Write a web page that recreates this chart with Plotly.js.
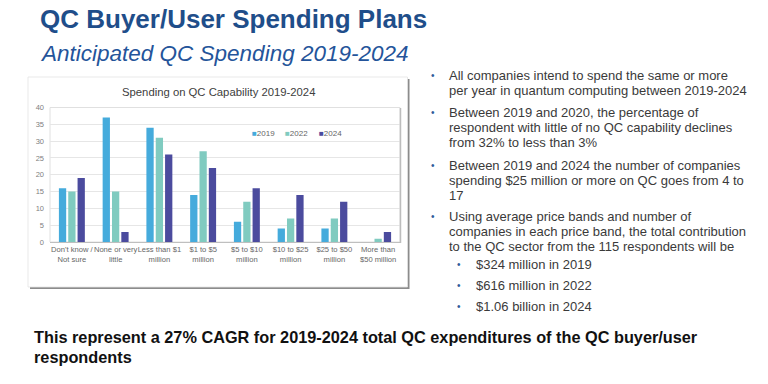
<!DOCTYPE html>
<html><head><meta charset="utf-8">
<script src="https://cdn.plot.ly/plotly-3.0.1.min.js"></script>
<style>html,body{margin:0;padding:0;background:#fff;}#chart{width:768px;height:384px;}</style>
</head><body><div id="chart"></div>
<script>
// ---- data ----
const categories = ["Don't know /<br>Not sure","None or very<br>little","Less than $1<br>million","$1 to $5<br>million","$5 to $10<br>million","$10 to $25<br>million","$25 to $50<br>million","More than<br>$50 million"];
const years = ["2019","2022","2024"];
const v2019 = [16,37,34,14,6,4,4,0];
const v2022 = [15,15,31,27,12,7,7,1];
const v2024 = [19,3,26,22,16,14,12,3];
const colors = ["#45ABDC","#80CBC0","#4B4B9E"];
const yTicks = [0,5,10,15,20,25,30,35,40];

const title = "QC Buyer/User Spending Plans";
const subtitle = "Anticipated QC Spending 2019-2024";
const chartTitle = "Spending on QC Capability 2019-2024";
const bullets = [
  ["All companies intend to spend the same or more","per year in quantum computing between 2019-2024"],
  ["Between 2019 and 2020, the percentage of","respondent with little of no QC capability declines","from 32% to less than 3%"],
  ["Between 2019 and 2024 the number of companies","spending $25 million or more on QC goes from 4 to","17"],
  ["Using average price bands and number of","companies in each price band, the total contribution","to the QC sector from the 115 respondents will be"]
];
const subBullets = ["$324 million in 2019","$616 million in 2022","$1.06 billion in 2024"];
const footer = ["This represent a 27% CAGR for 2019-2024 total QC expenditures of the QC buyer/user","respondents"];

// ---- layout helpers (pixel -> paper) ----
const W = 768, H = 384;
const px = x => x / W;
const py = y => 1 - y / H;

const series = [v2019, v2022, v2024];
const traces = series.map((v, i) => ({
  type: 'bar', x: categories, y: v, name: years[i],
  marker: {color: colors[i]}, showlegend: false, hoverinfo: 'skip'
}));

const annotations = [];
function txt(text, x, y, opts) {
  annotations.push(Object.assign({
    text: text, x: px(x), y: py(y), xref: 'paper', yref: 'paper',
    xanchor: 'left', yanchor: 'middle', showarrow: false,
    font: {family: 'Liberation Sans, Arial, sans-serif', size: 13, color: '#3A3A3A'}
  }, opts || {}));
}
txt(title, 38, 18.5, {font: {family: 'Liberation Sans, Arial, sans-serif', size: 26, color: '#1F4E8A', weight: 'bold'}});
txt('<i>' + subtitle + '</i>', 38, 53, {font: {family: 'Liberation Sans, Arial, sans-serif', size: 22.5, color: '#24549A'}});
txt(chartTitle, 218, 92, {xanchor: 'center', font: {family: 'Liberation Sans, Arial, sans-serif', size: 11.3, color: '#404040'}});

// legend as text
const legendX = [250, 283, 317];
years.forEach((yr, i) => {
  txt('<span style="color:' + colors[i] + '">■</span>' + yr, legendX[i], 134,
      {font: {family: 'Liberation Sans, Arial, sans-serif', size: 8, color: '#666666'}});
});

// bullets
const bulletStarts = [75, 113, 165.5, 216];
const lineGap = 15;
bullets.forEach((lines, b) => {
  txt('•', 429, bulletStarts[b], {font: {family: 'Liberation Sans, Arial, sans-serif', size: 10, color: '#2E5C9A'}});
  lines.forEach((l, k) => txt(l, 447, bulletStarts[b] + k * lineGap));
});
const subStarts = [264, 285, 306];
subBullets.forEach((s, k) => {
  txt('•', 455, subStarts[k], {font: {family: 'Liberation Sans, Arial, sans-serif', size: 10, color: '#2E5C9A'}});
  txt(s, 474, subStarts[k]);
});
// footer
footer.forEach((l, k) => txt(l, 32, 337 + k * 20, {font: {family: 'Liberation Sans, Arial, sans-serif', size: 16.3, color: '#111111', weight: 'bold'}}));

const shapes = [
  // chart box shadow + box
  {type: 'rect', xref: 'paper', yref: 'paper', x0: px(30), x1: px(409.5), y0: py(289), y1: py(79), line: {width: 0}, fillcolor: '#8C8C8C', layer: 'below'},
  {type: 'rect', xref: 'paper', yref: 'paper', x0: px(28), x1: px(407.5), y0: py(287), y1: py(77), line: {width: 0.8, color: '#E3E3E3'}, fillcolor: '#FFFFFF', layer: 'below'},
  // plot area frame
  {type: 'rect', xref: 'paper', yref: 'paper', x0: px(50), x1: px(400), y0: py(242), y1: py(107.5), line: {width: 1, color: '#E0E0E0'}, fillcolor: 'rgba(0,0,0,0)', layer: 'below'},
  {type: 'line', xref: 'paper', yref: 'paper', x0: px(400.5), x1: px(400.5), y0: py(243), y1: py(108), line: {width: 1.5, color: '#BDBDBD'}}
];

const layout = {
  width: W, height: H,
  margin: {l: 0, r: 0, t: 0, b: 0},
  paper_bgcolor: '#FFFFFF', plot_bgcolor: 'rgba(0,0,0,0)',
  barmode: 'group', bargap: 0.36, bargroupgap: 0.22,
  showlegend: false,
  font: {family: 'Liberation Sans, Arial, sans-serif'},
  xaxis: {
    domain: [px(50), px(400)], anchor: 'y',
    type: 'category', tickfont: {size: 7.6, color: '#666666'}, tickangle: 0,
    showline: true, linecolor: '#BFBFBF', linewidth: 1.2, ticks: '', showgrid: false,
    fixedrange: true
  },
  yaxis: {
    domain: [py(242), py(107.5)], anchor: 'x',
    range: [0, 40], tickvals: yTicks, ticktext: yTicks.map(String),
    tickfont: {size: 7.5, color: '#808080'},
    showgrid: true, gridcolor: '#E6E6E6', gridwidth: 1, zeroline: false,
    showline: false, ticks: '', ticklabelstandoff: 5, fixedrange: true
  },
  annotations: annotations,
  shapes: shapes
};
Plotly.newPlot('chart', traces, layout, {staticPlot: true, displayModeBar: false});
</script></body></html>
